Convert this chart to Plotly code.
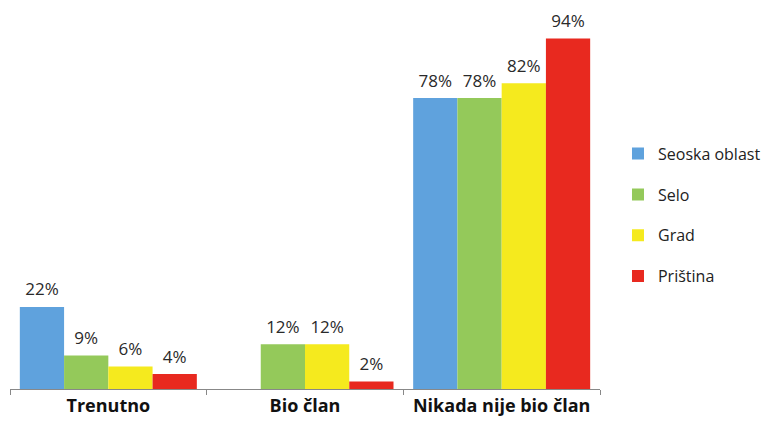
import plotly.graph_objects as go

categories = ["Trenutno", "Bio član", "Nikada nije bio član"]
series_names = ["Seoska oblast", "Selo", "Grad", "Priština"]
seoska = [22, None, 78]
selo = [9, 12, 78]
grad = [6, 12, 82]
pristina = [4, 2, 94]
colors = ["#5FA2DD", "#94C95A", "#F5EA1E", "#E8291F"]

fig = go.Figure()
all_vals = [seoska, selo, grad, pristina]
for i, (name, vals) in enumerate(zip(series_names, all_vals)):
    fig.add_trace(go.Bar(
        x=categories, y=vals, name=name, legendgroup=name,
        offsetgroup=str(i),
        marker=dict(color=colors[i], line=dict(width=0)),
    ))
for i, (name, vals) in enumerate(zip(series_names, all_vals)):
    fig.add_trace(go.Scatter(
        x=categories, y=vals, name=name, legendgroup=name, showlegend=False,
        offsetgroup=str(i), mode="markers+text",
        marker=dict(size=10, opacity=0),
        text=[f"{v}%" if v is not None else "" for v in vals],
        textposition="top center", cliponaxis=False, hoverinfo="skip",
        textfont=dict(size=17, color="#2a2a2a", family="Open Sans"),
    ))

fig.update_layout(
    width=774, height=424,
    margin=dict(l=2, r=182, t=8, b=43),
    paper_bgcolor="white", plot_bgcolor="white",
    barmode="group", bargap=0.1, bargroupgap=0,
    scattermode="group", scattergap=0.1,
    font=dict(family="Open Sans", size=16, color="#222222"),
    showlegend=True,
    legend=dict(x=1.0305, y=0.466, xanchor="left", yanchor="middle",
                tracegroupgap=17, itemwidth=30,
                font=dict(size=16, color="#222222")),
    xaxis=dict(showline=True, linecolor="#888888", linewidth=1,
               ticks="outside", tickson="boundaries", ticklen=5, tickcolor="#888888",
               tickfont=dict(size=18, color="#111111", family="Open Sans"),
               showgrid=False),
    yaxis=dict(range=[0, 100], visible=False, showgrid=False),
)
fig.update_xaxes(ticktext=[f"<b>{c}</b>" for c in categories], tickvals=categories)

fig.write_html("out.html")
